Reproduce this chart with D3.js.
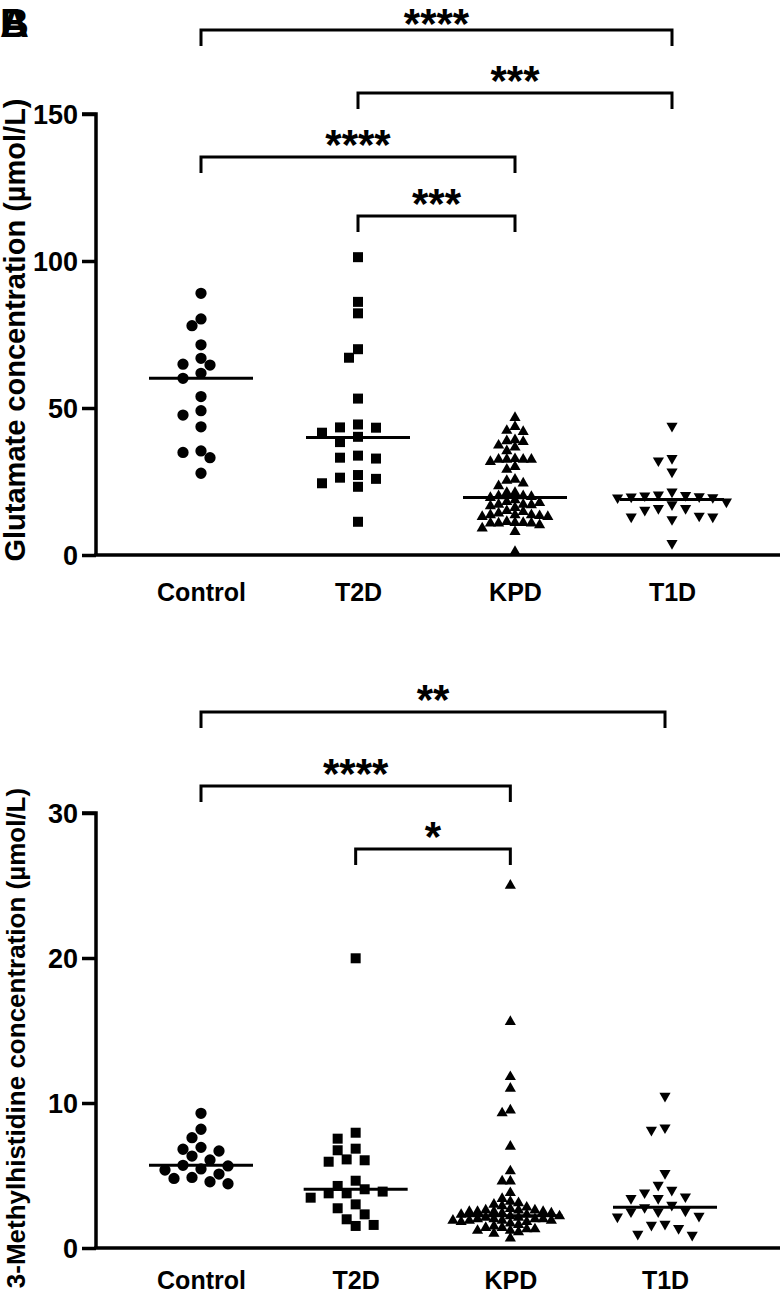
<!DOCTYPE html>
<html><head><meta charset="utf-8">
<script src="https://cdn.jsdelivr.net/npm/d3@7"></script>
<style>
body{margin:0;background:#fff}
svg{display:block}
text{font-family:"Liberation Sans",Arial,Helvetica,sans-serif;font-weight:bold;fill:#000}
</style>
</head><body>
<svg id="chart" width="780" height="1293"></svg>
<script>
// ---------- data ----------
const categories = ["Control", "T2D", "KPD", "T1D"];

// Panel A: Glutamate (µmol/L)
const gluControl = [89.0, 80.3, 78.0, 71.5, 64.6, 64.9, 66.9, 61.8, 60.1, 53.9, 47.6, 49.1, 43.6, 35.4, 34.9, 33.1, 27.8];
const gluT2D = [101.3, 86.1, 82.2, 70.0, 67.1, 53.2, 43.3, 44.4, 43.4, 41.6, 40.2, 38.4, 33.8, 32.8, 33.1, 27.2, 24.4, 26.3, 23.2, 25.9, 11.3];
const gluKPD = [46.7, 43.6, 42.3, 41.9, 39.1, 38.5, 38.8, 36.6, 37.3, 35.4, 32.7, 32.5, 32.5, 31.7, 32.5, 32.5, 30.0, 29.1, 25.3, 24.4,
                25.7, 23.5, 21.2, 19.5, 21.2, 20.1, 20.1, 18.7, 17.8, 16.7, 17.0, 17.2, 17.2, 16.1, 18.1, 13.6, 13.6, 13.3, 14.2, 13.0,
                15.0, 13.0, 14.7, 13.6, 10.8, 10.8, 10.2, 11.3, 11.0, 10.8, 11.0, 9.1, 7.9, 1.1, 19.8];
const gluT1D = [43.9, 32.1, 32.9, 28.3, 19.8, 19.6, 21.5, 19.5, 20.2, 20.5, 19.9, 20.3, 18.1, 15.9, 17.2, 15.9, 15.3, 13.3, 13.0, 13.0, 12.1, 4.0];
const gluMedians = [60.1, 40.0, 19.6, 18.9];
const gluTicks = [0, 50, 100, 150];
const gluComparisons = [["Control", "T1D", "****"], ["T2D", "T1D", "***"], ["Control", "KPD", "****"], ["T2D", "KPD", "***"]];

// Panel B: 3-Methylhistidine (µmol/L)
const mhControl = [9.29, 8.19, 7.61, 6.81, 6.69, 6.94, 6.34, 6.07, 5.70, 5.45, 5.66, 5.38, 5.10, 4.57, 4.80, 4.87, 4.43];
const mhT2D = [19.98, 7.95, 7.54, 6.85, 6.74, 6.05, 6.11, 5.95, 4.64, 3.77, 4.05, 4.28, 3.47, 2.74, 1.98, 3.77, 3.01, 2.32, 1.59, 3.89, 1.52];
const mhKPD = [25.0, 15.6, 11.8, 11.0, 9.5, 9.3, 7.0, 5.3, 4.6, 4.6, 3.8, 3.4,
               3.1, 3.0, 2.9, 3.2, 2.8, 2.6, 2.5, 2.4, 2.5, 2.6, 2.4, 2.5, 2.6, 2.5, 2.3, 2.2, 2.2,
               1.9, 2.0, 1.9, 2.0, 1.8, 1.9, 2.0, 2.1, 1.9, 1.8, 2.0, 1.3, 1.3, 1.4, 1.2, 1.1, 1.2, 1.4, 1.5,
               0.67, 2.1, 2.3, 1.6, 1.7, 2.7, 1.0];
const mhT1D = [10.48, 8.14, 8.30, 5.15, 3.82, 4.34, 4.0, 3.43, 3.43, 3.54, 2.97, 2.21, 2.51, 2.16, 2.51, 2.57, 1.59, 1.36, 1.66, 0.90, 0.97, 2.8];
const mhMedians = [5.7, 4.05, 2.23, 2.81];
const mhTicks = [0, 10, 20, 30];
const mhComparisons = [["Control", "T1D", "**"], ["Control", "KPD", "****"], ["T2D", "KPD", "*"]];

// ---------- layout ----------
const svg = d3.select("#chart");
const AXIS_X = 96;
const AXIS_RIGHT = 780;

// marker style + swarm spacing per group (Control, T2D, KPD, T1D)
const symbols = [
  {type: d3.symbolCircle, size: 100, rot: 0, step: 9, box: false, D: 11},
  {type: d3.symbolSquare, size: 100, rot: 0, step: 9, box: false, D: 11},
  {type: d3.symbolTriangle, size: 54, rot: 0, step: 8.2, box: true, dx: 8, dy: 7.2},
  {type: d3.symbolTriangle, size: 54, rot: 180, step: 6.8, box: false, D: 12.5}
];

function swarm(values, y, cx, s) {
  const pts = values.map(v => ({v, y: y(v)})).sort((a, b) => b.v - a.v);
  const placed = [];
  const hit = (q, x, yy) => s.box
    ? (Math.abs(q.x - x) < s.dx && Math.abs(q.y - yy) < s.dy)
    : Math.hypot(q.x - x, q.y - yy) < s.D;
  pts.forEach(p => {
    for (let k = 0; k < 80; k++) {
      const n = Math.ceil(k / 2);
      const off = k === 0 ? 0 : (k % 2 ? -n : n) * s.step;
      const x = cx + off;
      if (!placed.some(q => hit(q, x, p.y))) { p.x = x; break; }
    }
    placed.push(p);
  });
  return pts;
}

function panel(cfg) {
  const g = svg.append("g");
  const y = d3.scaleLinear().domain([0, cfg.ymax]).range([cfg.y0, cfg.y1]);
  const x = d3.scalePoint().domain(categories).range(cfg.xr);

  // y axis
  const yAxis = d3.axisLeft(y).tickValues(cfg.ticks).tickSize(14).tickPadding(4).tickFormat(d3.format("d"));
  const ya = g.append("g").attr("transform", `translate(${AXIS_X},0)`).call(yAxis);
  ya.select(".domain").attr("stroke", "#000").attr("stroke-width", 3.5).attr("d", `M-14,${cfg.y1}H0V${cfg.y0}`);
  ya.selectAll(".tick line").attr("stroke", "#000").attr("stroke-width", 3.5);
  ya.selectAll(".tick text").style("font-size", "27px").style("font-weight", "bold")
    .attr("font-family", null).attr("dy", "0.36em").attr("fill", "#000");

  // x axis
  const xAxis = d3.axisBottom(x).tickSize(0).tickPadding(0);
  const xa = g.append("g").attr("transform", `translate(0,${cfg.y0})`).call(xAxis);
  xa.select(".domain").attr("stroke", "#000").attr("stroke-width", 3.5).attr("d", `M${AXIS_X - 1.75},0H${AXIS_RIGHT}`);
  xa.selectAll(".tick text").style("font-size", "25px").style("font-weight", "bold")
    .attr("font-family", null).attr("y", cfg.catDy).attr("dy", null).attr("fill", "#000");

  // y title
  g.append("text")
    .attr("transform", `translate(${cfg.titleX},${(cfg.titleY)}) rotate(-90)`)
    .attr("text-anchor", "middle")
    .style("font-size", cfg.titleSize + "px")
    .text(cfg.title);

  // points
  cfg.series.forEach((vals, i) => {
    const s = symbols[i];
    const pts = swarm(vals, y, x(categories[i]), s);
    g.append("g").selectAll("path").data(pts).join("path")
      .attr("d", d3.symbol().type(s.type).size(s.size))
      .attr("transform", d => `translate(${d.x},${d.y}) rotate(${s.rot})`)
      .attr("fill", "#000");
  });

  // medians
  g.append("g").selectAll("line").data(cfg.medians).join("line")
    .attr("x1", (d, i) => x(categories[i]) - 52)
    .attr("x2", (d, i) => x(categories[i]) + 52)
    .attr("y1", d => y(d)).attr("y2", d => y(d))
    .attr("stroke", "#000").attr("stroke-width", 3);

  // significance brackets
  cfg.comparisons.forEach((c, i) => {
    const by = cfg.bracketY[i];
    const xa1 = x(c[0]), xa2 = x(c[1]);
    g.append("path")
      .attr("d", `M${xa1},${by + 16}V${by}H${xa2}V${by + 16}`)
      .attr("fill", "none").attr("stroke", "#000").attr("stroke-width", 3);
    g.append("text")
      .attr("x", (xa1 + xa2) / 2).attr("y", Math.max(by + 2, 38))
      .attr("text-anchor", "middle")
      .style("font-size", "42px")
      .text(c[2]);
  });
}

panel({
  ymax: 150, y0: 555, y1: 114, xr: [201, 672], ticks: gluTicks,
  series: [gluControl, gluT2D, gluKPD, gluT1D], medians: gluMedians,
  comparisons: gluComparisons, bracketY: [30, 93, 157, 216],
  title: "Glutamate concentration (µmol/L)", titleX: 25, titleY: 330, titleSize: 29,
  catDy: 46
});

panel({
  ymax: 30, y0: 1248, y1: 813, xr: [201, 665], ticks: mhTicks,
  series: [mhControl, mhT2D, mhKPD, mhT1D], medians: mhMedians,
  comparisons: mhComparisons, bracketY: [712, 786, 849],
  title: "3-Methylhistidine concentration (µmol/L)", titleX: 25, titleY: 1038, titleSize: 26,
  catDy: 41
});

// overlapping panel letters (as in the source figure)
svg.append("text").attr("x", 0).attr("y", 37).style("font-size", "40px").text("A");
svg.append("text").attr("x", 0).attr("y", 37).style("font-size", "40px").text("B");
</script>
</body></html>
